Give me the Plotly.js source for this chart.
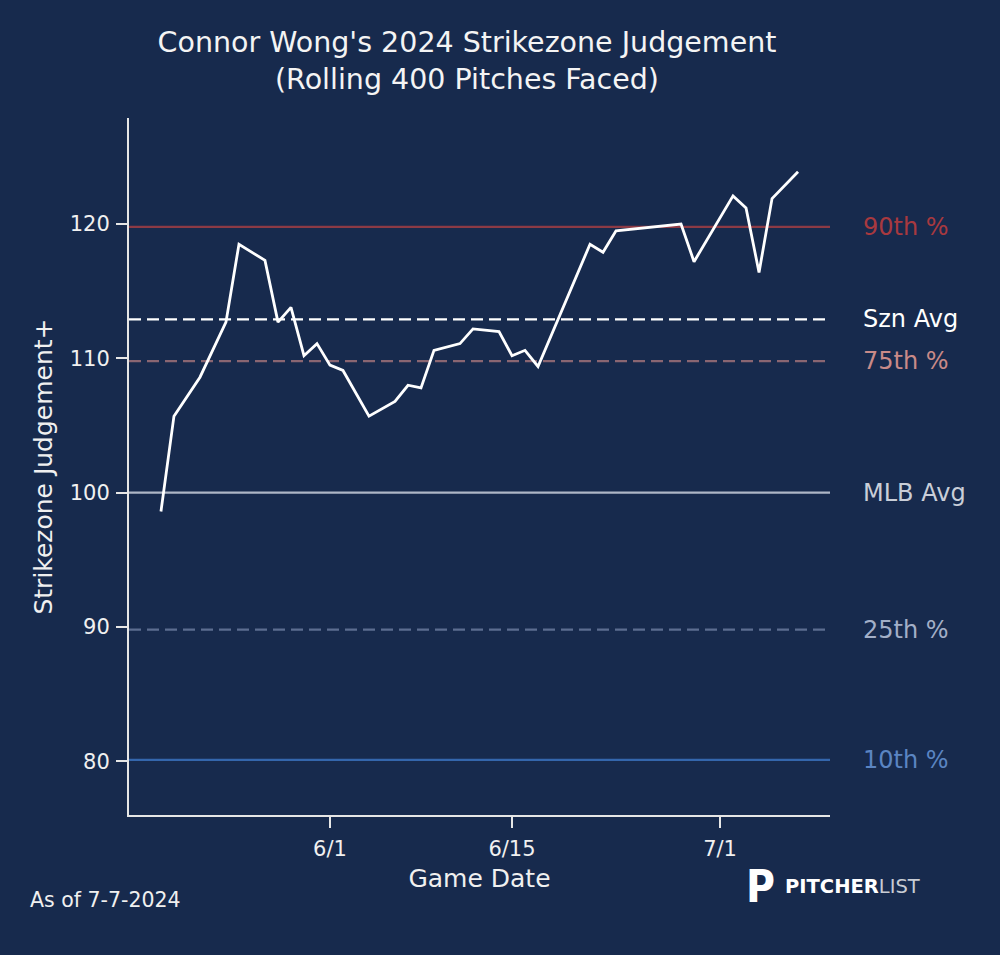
<!DOCTYPE html>
<html>
<head>
<meta charset="utf-8">
<script src="https://cdn.plot.ly/plotly-3.0.1.min.js"></script>
<style>html,body{margin:0;padding:0;background:#172a4d;}</style>
</head>
<body>
<div id="chart" style="width:1000px;height:955px;"></div>
<script>
// ---- data ----
const gameDates = [
  "2024-05-19","2024-05-20","2024-05-22","2024-05-24","2024-05-25","2024-05-27",
  "2024-05-28","2024-05-29","2024-05-30","2024-05-31","2024-06-01","2024-06-02",
  "2024-06-04","2024-06-06","2024-06-07","2024-06-08","2024-06-09","2024-06-11",
  "2024-06-12","2024-06-14","2024-06-15","2024-06-16","2024-06-17","2024-06-21",
  "2024-06-22","2024-06-23","2024-06-28","2024-06-29","2024-07-02","2024-07-03",
  "2024-07-04","2024-07-05","2024-07-07"
];
const szJudgement = [
  98.6,105.7,108.6,112.7,118.5,117.3,
  112.7,113.8,110.2,111.1,109.5,109.1,
  105.7,106.8,108.0,107.8,110.6,111.1,
  112.2,112.0,110.2,110.6,109.4,118.5,
  117.9,119.5,120.0,117.2,122.1,121.2,
  116.4,121.9,123.9
];
const refLabels = ["90th %","Szn Avg","75th %","MLB Avg","25th %","10th %"];
const refValues = [119.8, 112.9, 109.8, 100, 89.8, 80.1];
const tickDates = ["2024-06-01","2024-06-15","2024-07-01"];
const tickLabels = ["6/1","6/15","7/1"];
const yTicks = [80, 90, 100, 110, 120];

// ---- styles ----
const BG = "#172a4d";
const FONT = "DejaVu Sans, sans-serif";
const refStyles = [
  {line:"#8c3a45", dash:"solid", text:"#a8393f"},
  {line:"#ffffff", dash:"12px,6px", text:"#ffffff"},
  {line:"#8a6672", dash:"12px,6px", text:"#c98a88"},
  {line:"#aeb6c6", dash:"solid", text:"#c9ced8"},
  {line:"#5c6d90", dash:"12px,6px", text:"#a3afc7"},
  {line:"#3466ac", dash:"solid", text:"#5b85c2"}
];

const shapes = refValues.map((v, i) => ({
  type: "line", xref: "paper", x0: 0, x1: 1, yref: "y", y0: v, y1: v,
  line: {color: refStyles[i].line, width: 2.2, dash: refStyles[i].dash},
  layer: "below"
}));

const annotations = refValues.map((v, i) => ({
  xref: "paper", x: 1.044, xanchor: "left", yref: "y", y: v, yanchor: "middle",
  text: refLabels[i], showarrow: false,
  font: {family: FONT, size: 24, color: refStyles[i].text}
}));

annotations.push({
  xref: "paper", yref: "paper", x: -0.144, y: -0.122, xanchor: "left", yanchor: "middle",
  text: "As of 7-7-2024", showarrow: false,
  font: {family: FONT, size: 20.5, color: "#f0f0f0"}
});
annotations.push({
  xref: "paper", yref: "paper", x: 0.878, y: -0.102, xanchor: "left", yanchor: "middle",
  text: "<b>P</b>", showarrow: false,
  font: {family: "DejaVu Sans Condensed, DejaVu Sans, sans-serif", size: 44, color: "#ffffff"}
});
annotations.push({
  xref: "paper", yref: "paper", x: 0.933, y: -0.102, xanchor: "left", yanchor: "middle",
  text: "<b>PITCHER</b><span style='color:#c8ccd4'>LIST</span>", showarrow: false,
  font: {family: "DejaVu Sans, sans-serif", size: 19.5, color: "#ffffff"}
});

const traces = [{
  x: gameDates, y: szJudgement, type: "scatter", mode: "lines",
  line: {color: "#ffffff", width: 2.8},
  hoverinfo: "skip", showlegend: false
}];

const layout = {
  width: 1000, height: 955,
  paper_bgcolor: BG, plot_bgcolor: BG,
  margin: {l: 129, r: 170, t: 118, b: 140},
  font: {family: FONT, color: "#f0f0f0"},
  title: {
    text: "Connor Wong's 2024 Strikezone Judgement<br>(Rolling 400 Pitches Faced)",
    font: {family: FONT, size: 28.5, color: "#f4f4f4"},
    xref: "container", x: 0.467, xanchor: "center",
    yref: "container", y: 0.946, yanchor: "top"
  },
  xaxis: {
    type: "date",
    range: ["2024-05-16 13:00", "2024-07-09 11:00"],
    tickmode: "array", tickvals: tickDates, ticktext: tickLabels,
    showgrid: false, zeroline: false,
    showline: true, linecolor: "#e6e6e6", linewidth: 2,
    ticks: "outside", ticklen: 11, tickwidth: 2, tickcolor: "#e6e6e6",
    ticklabelstandoff: 3,
    tickfont: {family: FONT, size: 21, color: "#f0f0f0"},
    title: {text: "Game Date", font: {family: FONT, size: 25, color: "#f0f0f0"}, standoff: 9}
  },
  yaxis: {
    range: [76, 127.9],
    tickmode: "array", tickvals: yTicks,
    showgrid: false, zeroline: false,
    showline: true, linecolor: "#e6e6e6", linewidth: 2,
    ticks: "outside", ticklen: 11, tickwidth: 2, tickcolor: "#e6e6e6",
    ticklabelstandoff: 2,
    tickfont: {family: FONT, size: 21, color: "#f0f0f0"},
    title: {text: "Strikezone Judgement+", font: {family: FONT, size: 25, color: "#f0f0f0"}, standoff: 10}
  },
  shapes: shapes,
  annotations: annotations,
  showlegend: false
};

Plotly.newPlot("chart", traces, layout, {displayModeBar: false, staticPlot: true});
</script>
</body>
</html>
